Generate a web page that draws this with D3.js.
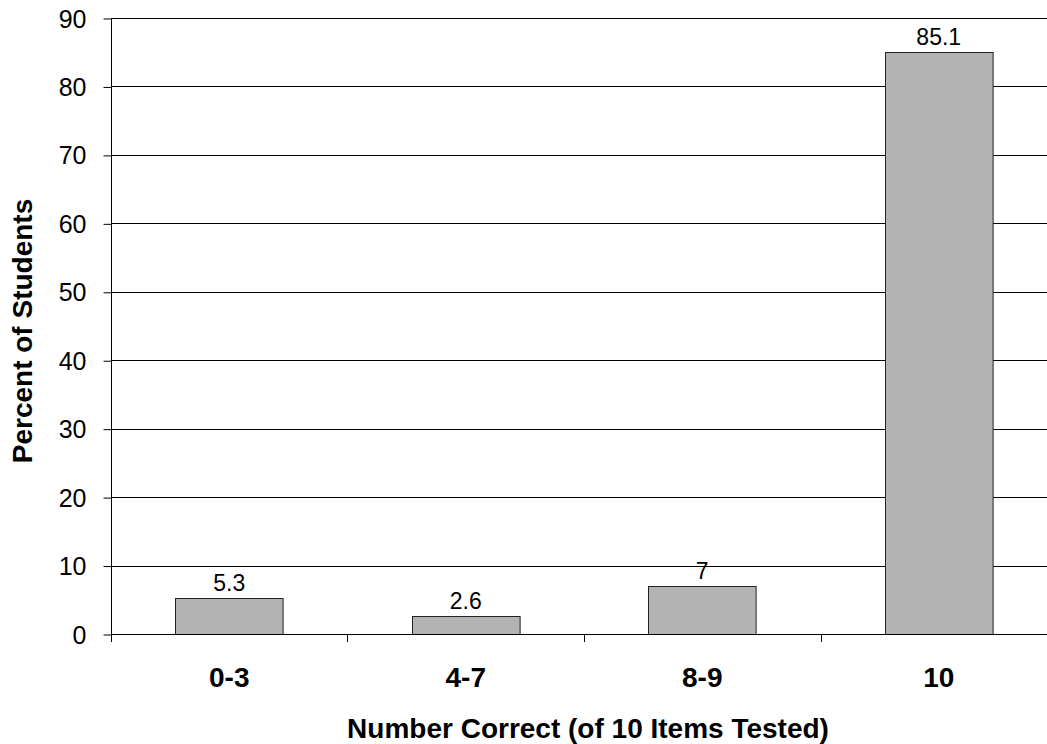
<!DOCTYPE html>
<html>
<head>
<meta charset="utf-8">
<script src="https://cdn.jsdelivr.net/npm/d3@7"></script>
<style>
  body { margin: 0; background: #fff; }
  svg text { font-family: "Liberation Sans", Arial, sans-serif; fill: #000; }
</style>
</head>
<body>
<svg width="1047" height="744"></svg>
<script>
var categories = ["0-3", "4-7", "8-9", "10"];
var percents = [5.3, 2.6, 7, 85.1];
var yTicks = [0, 10, 20, 30, 40, 50, 60, 70, 80, 90];

function main() {
    var svg = d3.select("svg"),
        margin = {top: 18, right: -10, bottom: 110, left: 111},
        width = svg.attr("width") - margin.left - margin.right,
        height = svg.attr("height") - margin.top - margin.bottom;

    var g = svg.append("g")
        .attr("transform", `translate(${margin.left},${margin.top})`);

    // scales
    var x = d3.scaleBand()
        .domain(categories)
        .range([0, width])
        .paddingInner(0.545)
        .paddingOuter(0.2725);

    var y = d3.scaleLinear()
        .domain([0, 90])
        .range([height, 0]);

    // grid lines
    g.selectAll(".grid")
      .data(yTicks.filter(d => d > 0))
      .join("line")
        .attr("x1", 0)
        .attr("x2", width)
        .attr("y1", d => Math.round(y(d)) + 0.5)
        .attr("y2", d => Math.round(y(d)) + 0.5)
        .attr("stroke", "#000")
        .attr("stroke-width", 1);

    // Y axis
    var yAxis = g.append("g")
        .attr("transform", "translate(0.5,0)")
        .call(d3.axisLeft(y).tickValues(yTicks).tickSize(8).tickPadding(17));
    yAxis.select(".domain").attr("d", `M0,${height + 8}V0.5`);
    yAxis.selectAll(".tick line").attr("transform", "translate(0,0.5)");
    yAxis.selectAll("text")
        .attr("dy", "0.36em")
        .style("font-size", "25px")
        .style("font-family", "Liberation Sans, Arial, sans-serif");

    // bars
    g.selectAll(".bar")
      .data(percents)
      .join("rect")
        .attr("x", (d, i) => Math.round(x(categories[i])) + 0.5)
        .attr("y", d => Math.round(y(d)) + 0.5)
        .attr("width", x.bandwidth())
        .attr("height", d => height - Math.round(y(d)))
        .attr("fill", "#b3b3b3")
        .attr("stroke", "#222")
        .attr("stroke-width", 1);

    // value labels
    g.selectAll(".val")
      .data(percents)
      .join("text")
        .attr("x", (d, i) => x(categories[i]) + x.bandwidth() / 2)
        .attr("y", d => y(d) - 7)
        .attr("text-anchor", "middle")
        .style("font-size", "23px")
        .text(d => d);

    // X axis line and boundary ticks
    var gap = x.step() - x.bandwidth();
    var bounds = categories.map(c => x(c) - gap / 2).concat([x(categories[3]) + x.bandwidth() + gap / 2]);
    g.append("line")
        .attr("x1", 0).attr("x2", width)
        .attr("y1", height + 0.5).attr("y2", height + 0.5)
        .attr("stroke", "#000");
    g.selectAll(".xtick")
      .data(bounds)
      .join("line")
        .attr("x1", d => Math.round(d) + 0.5)
        .attr("x2", d => Math.round(d) + 0.5)
        .attr("y1", height)
        .attr("y2", height + 8)
        .attr("stroke", "#000");

    // category labels
    g.selectAll(".cat")
      .data(categories)
      .join("text")
        .attr("x", d => x(d) + x.bandwidth() / 2)
        .attr("y", height + 53)
        .attr("text-anchor", "middle")
        .style("font-size", "28px")
        .style("font-weight", "bold")
        .text(d => d);

    // axis titles
    svg.append("text")
        .attr("x", 588)
        .attr("y", 738)
        .attr("text-anchor", "middle")
        .style("font-size", "28px")
        .style("font-weight", "bold")
        .text("Number Correct (of 10 Items Tested)");

    svg.append("text")
        .attr("transform", "translate(32,331) rotate(-90)")
        .attr("text-anchor", "middle")
        .style("font-size", "28px")
        .style("font-weight", "bold")
        .text("Percent of Students");
}
main();
</script>
</body>
</html>
